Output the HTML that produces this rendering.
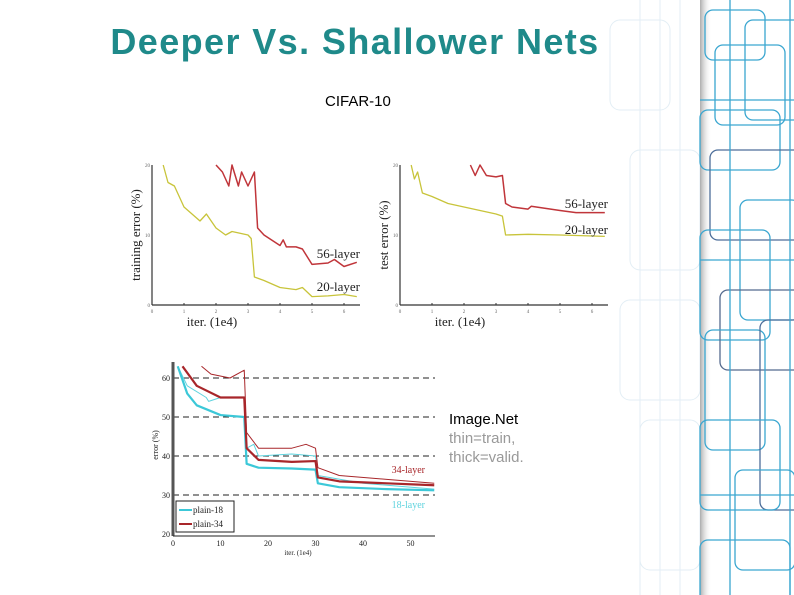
<!DOCTYPE html>
<html><head><meta charset="utf-8"><style>
body{margin:0;width:794px;height:595px;overflow:hidden;background:#fff;font-family:"Liberation Sans",sans-serif;position:relative}
.abs{position:absolute}
</style></head><body>
<svg class="abs" style="left:0;top:0" width="794" height="595">
<defs><linearGradient id="sh" x1="0" x2="1"><stop offset="0" stop-color="#999" stop-opacity="0.8"/><stop offset="1" stop-color="#fff" stop-opacity="0"/></linearGradient></defs>
<g fill="none" stroke="#e3eef5" stroke-width="1">
<rect x="610" y="20" width="60" height="90" rx="10"/><rect x="630" y="150" width="70" height="120" rx="10"/>
<rect x="620" y="300" width="80" height="100" rx="10"/><rect x="640" y="420" width="60" height="150" rx="10"/>
<line x1="640" y1="0" x2="640" y2="595"/><line x1="660" y1="0" x2="660" y2="595"/><line x1="680" y1="0" x2="680" y2="595"/>
</g>
<rect x="700" y="0" width="12" height="595" fill="url(#sh)"/>
<g fill="none" stroke="#3aa6d0" stroke-width="1.3">
<rect x="705" y="10" width="60" height="50" rx="8"/><rect x="715" y="45" width="70" height="80" rx="8"/>
<rect x="745" y="20" width="60" height="100" rx="8"/><rect x="700" y="110" width="80" height="60" rx="8"/>
<rect x="710" y="150" width="100" height="90" rx="8" stroke="#4d6e9a"/><rect x="740" y="200" width="60" height="120" rx="8"/>
<rect x="700" y="230" width="70" height="110" rx="8"/><rect x="720" y="290" width="90" height="80" rx="8" stroke="#556b8f"/>
<rect x="705" y="330" width="60" height="120" rx="8"/><rect x="760" y="320" width="60" height="190" rx="8" stroke="#4d6e9a"/>
<rect x="700" y="420" width="80" height="90" rx="8"/><rect x="735" y="470" width="60" height="100" rx="8"/>
<rect x="700" y="540" width="90" height="70" rx="8"/>
<line x1="730" y1="0" x2="730" y2="595"/><line x1="790" y1="0" x2="790" y2="595"/><line x1="700" y1="495" x2="794" y2="495"/>
<line x1="700" y1="260" x2="794" y2="260"/><line x1="700" y1="100" x2="794" y2="100"/>
</g>
</svg>
<div class="abs" style="left:60px;top:21px;width:590px;text-align:center;font-size:36px;font-weight:bold;letter-spacing:1.4px;color:#1f8a8a;white-space:nowrap">Deeper Vs. Shallower Nets</div>
<div class="abs" style="left:325px;top:93px;font-size:15px;color:#000">CIFAR-10</div>
<div class="abs" style="left:449px;top:410px;font-size:15px;line-height:19px;color:#000">Image.Net<br><span style="color:#999">thin=train,</span><br><span style="color:#999">thick=valid.</span></div>
<svg class="abs" style="left:0;top:0" width="794" height="595" id="charts" font-family="Liberation Serif,serif"></svg>
<script>
const trX20=[0.35,0.5,0.7,1,1.5,1.7,2,2.3,2.5,3,3.1,3.2,3.5,4,4.5,4.7,5,5.5,6,6.4];
const trY20=[20,17.5,17,14,12,13,11,10,10.5,10,9.5,4,3.5,2.5,2.2,2.5,1.2,1.3,1.5,1.2];
const trX56=[2,2.2,2.4,2.5,2.7,2.8,3,3.1,3.2,3.3,3.5,4,4.1,4.2,4.5,4.7,5,5.5,5.7,6,6.4];
const trY56=[20,19,17,20,17,19,17,18,19,11,10,8.5,9.3,8.3,8.3,8,5.8,6,6.5,5.5,6.1];
const teX20=[0.35,0.45,0.55,0.7,1,1.5,2,2.5,3,3.2,3.3,4,5,6.4];
const teY20=[20,18,19,16,15.5,14.5,14,13.5,13,12.7,10,10.1,10,9.8];
const teX56=[2.2,2.35,2.5,2.7,3,3.2,3.3,3.5,4,4.1,5,5.5,6.4];
const teY56=[20,18.5,20,18.5,18.3,18.5,14.5,14,13.7,14.1,13.5,13.2,13.2];
const inX18t=[1,3,5,10,15,15.5,18,25,30,30.5,35,45,55];
const inY18t=[63,56,53,50.5,50,38,37,36.8,36.5,33,32,31.5,31.2];
const inX18n=[1,3,7,7.5,10,15,15.5,17,18,25,30,30.5,40,55];
const inY18n=[63,58,55,54,55,55,42,43,40,40.5,40,35,33,31.5];
const inX34t=[2,5,10,15,15.5,18,25,30,30.5,35,45,55];
const inY34t=[63,58,55,55,42,39,38.5,38.7,34.5,33.5,33,32.5];
const inX34n=[6,8,12,15,15.5,18,25,28,30,30.5,35,45,55];
const inY34n=[63,61,60,62,46,42,42,43,42,37,35,34,33];
const topXTicks=[0,1,2,3,4,5,6];
const inXTicks=[0,10,20,30,40,50];
const inYTicks=[20,30,40,50,60];
const svg=document.getElementById('charts');const NS='http://www.w3.org/2000/svg';
function mk(t,a,txt){const e=document.createElementNS(NS,t);for(const k in a)e.setAttribute(k,a[k]);if(txt!=null)e.textContent=txt;svg.appendChild(e);return e;}
function line(xs,ys,sx,sy,col,w,name){const e=mk('polyline',{points:xs.map((x,i)=>sx(x)+','+sy(ys[i])).join(' '),fill:'none',stroke:col,'stroke-width':w,'stroke-linejoin':'round'});

}
function topChart(x0,yTitle,X20,Y20,X56,Y56,pre,l56y,l20y){
 const sx=v=>x0+v*32, sy=v=>305-v*7;
 mk('line',{x1:x0,y1:165,x2:x0,y2:305,stroke:'#333','stroke-width':1.2});
 mk('line',{x1:x0,y1:305,x2:x0+208,y2:305,stroke:'#333','stroke-width':1.2});
 topXTicks.forEach(t=>{mk('line',{x1:sx(t),y1:303,x2:sx(t),y2:305,stroke:'#333'});mk('text',{x:sx(t),y:313,'font-size':5,'text-anchor':'middle',fill:'#666'},t);});
 [0,10,20].forEach(t=>mk('text',{x:x0-2,y:sy(t)+2,'font-size':5,'text-anchor':'end',fill:'#666'},t));
 const yt=mk('text',{x:0,y:0,'font-size':13,'text-anchor':'middle',transform:`translate(${x0-12},235) rotate(-90)`,fill:'#222'},yTitle);
 
 
 const xt=mk('text',{x:x0+60,y:326,'font-size':13,'text-anchor':'middle',fill:'#222'},'iter. (1e4)');
 
 
 line(X20,Y20,sx,sy,'#c8c43a',1.3,pre+'-line-20-layer');
 line(X56,Y56,sx,sy,'#c0353a',1.5,pre+'-line-56-layer');
 mk('text',{x:x0+208,y:l56y,'font-size':13,'text-anchor':'end',fill:'#222'},'56-layer');
 mk('text',{x:x0+208,y:l20y,'font-size':13,'text-anchor':'end',fill:'#222'},'20-layer');
}
topChart(152,'training error (%)',trX20,trY20,trX56,trY56,'train',258,291);
topChart(400,'test error (%)',teX20,teY20,teX56,teY56,'test',208,234);
const sx=v=>173+v*4.75, sy=v=>495-(v-30)*3.9;
mk('rect',{x:145,y:362,width:295,height:193,fill:'#fff'});
inYTicks.slice(1).forEach(t=>mk('line',{x1:173,y1:sy(t),x2:435,y2:sy(t),stroke:'#222','stroke-dasharray':'6,4','stroke-width':1}));
mk('line',{x1:173,y1:362,x2:173,y2:536,stroke:'#555','stroke-width':3});
mk('line',{x1:173,y1:536,x2:435,y2:536,stroke:'#222','stroke-width':1});
inYTicks.forEach(t=>mk('text',{x:170,y:sy(t)+3,'font-size':8,'text-anchor':'end',fill:'#222'},t));
inXTicks.forEach(t=>mk('text',{x:sx(t),y:546,'font-size':8,'text-anchor':'middle',fill:'#222'},t));
mk('text',{x:298,y:555,'font-size':7,'text-anchor':'middle',fill:'#222'},'iter. (1e4)');
mk('text',{x:0,y:0,'font-size':8,'text-anchor':'middle',transform:'translate(158,445) rotate(-90)',fill:'#222'},'error (%)');
line(inX18n,inY18n,sx,sy,'#5fd3de',1,'line-plain18-train');
line(inX18t,inY18t,sx,sy,'#3cc8d8',2.2,'line-plain18-valid');
line(inX34n,inY34n,sx,sy,'#a8262a',1,'line-plain34-train');
line(inX34t,inY34t,sx,sy,'#a8262a',2.2,'line-plain34-valid');
mk('text',{x:425,y:473,'font-size':10,'text-anchor':'end',fill:'#a8262a'},'34-layer');
mk('text',{x:425,y:508,'font-size':10,'text-anchor':'end',fill:'#5fd3de'},'18-layer');
const lg=mk('rect',{x:176,y:501,width:58,height:31,fill:'#fff',stroke:'#222'});


mk('line',{x1:179,y1:510,x2:192,y2:510,stroke:'#3cc8d8','stroke-width':2});
mk('text',{x:193,y:513,'font-size':9,fill:'#222'},'plain-18');
mk('line',{x1:179,y1:524,x2:192,y2:524,stroke:'#a8262a','stroke-width':2});
mk('text',{x:193,y:527,'font-size':9,fill:'#222'},'plain-34');
</script>
</body></html>
